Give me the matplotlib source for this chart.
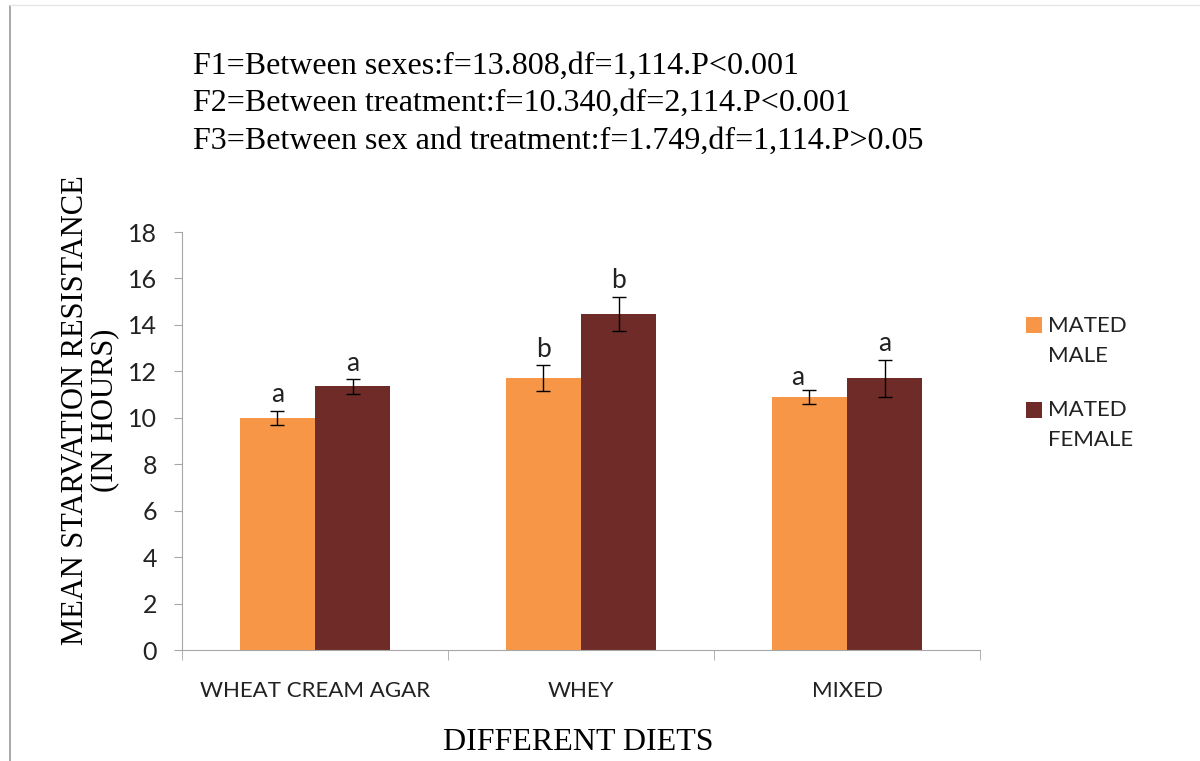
import numpy as np
import matplotlib.pyplot as plt
import matplotlib.patches as mpatches
from matplotlib.container import BarContainer
from matplotlib.legend_handler import HandlerPatch, update_from_first_child
from matplotlib.lines import Line2D

# Starvation resistance by diet and sex
diets = ['WHEAT CREAM AGAR', 'WHEY', 'MIXED']
male_mean = [10.0, 11.7, 10.9]
male_err = [0.3, 0.56, 0.29]
female_mean = [11.35, 14.47, 11.7]
female_err = [0.31, 0.74, 0.8]
male_letters = ['a', 'b', 'a']
female_letters = ['a', 'b', 'a']

stats_lines = [
    'F1=Between sexes:f=13.808,df=1,114.P<0.001',
    'F2=Between treatment:f=10.340,df=2,114.P<0.001',
    'F3=Between sex and treatment:f=1.749,df=1,114.P>0.05',
]

orange = '#F79646'
maroon = '#6E2B27'
axis_grey = '#A6A6A6'
sans = 'Lato'
serif = 'Liberation Serif'


def top_aligned_square(legend, orig_handle, xdescent, ydescent, width, height, fontsize):
    # legend key sits next to the first line of a two-line label
    return mpatches.Rectangle((-xdescent, -ydescent + 0.72 * fontsize), width, height)


fig = plt.figure(figsize=(12, 7.61), dpi=100)
ax = fig.add_axes([182 / 1200, 1 - 650 / 761, 798 / 1200, 418 / 761])

x = np.arange(len(diets))
w = 0.283
ax.bar(x - w / 2, male_mean, w, color=orange, label='MATED\nMALE')
ax.bar(x + w / 2, female_mean, w, color=maroon, label='MATED\nFEMALE')
ax.errorbar(x - w / 2, male_mean, yerr=male_err, fmt='none', ecolor='black',
            elinewidth=1.0, capsize=5, capthick=1.0)
ax.errorbar(x + w / 2, female_mean, yerr=female_err, fmt='none', ecolor='black',
            elinewidth=1.0, capsize=5, capthick=1.0)

# significance letters above the error bars
for i in range(len(diets)):
    dx = -0.045 if i == 2 else 0.0
    ax.text(x[i] - w / 2 + dx, male_mean[i] + male_err[i] + (0.0 if i == 2 else 0.15),
            male_letters[i], ha='center', va='bottom', fontsize=19, family=sans,
            color='#222222')
    ax.text(x[i] + w / 2, female_mean[i] + female_err[i] + 0.15, female_letters[i],
            ha='center', va='bottom', fontsize=19, family=sans, color='#222222')

ax.set_xlim(-0.5, len(diets) - 0.5)
ax.set_ylim(0, 18)
ax.set_yticks(range(0, 19, 2))
ax.set_xticks(x)
ax.set_xticklabels(diets, family=sans, fontsize=16)
ax.set_xticks(np.arange(-0.5, len(diets), 1.0), minor=True)
ax.tick_params(axis='x', which='major', length=0, pad=22)
ax.tick_params(axis='x', which='minor', length=7, color=axis_grey, direction='out')
ax.tick_params(axis='y', length=6, color=axis_grey, direction='out', pad=12,
               labelsize=18)
for lab in ax.get_yticklabels():
    lab.set_family(sans)
    lab.set_color('#222222')
for lab in ax.get_xticklabels():
    lab.set_color('#222222')

for side in ['top', 'right']:
    ax.spines[side].set_visible(False)
for side in ['left', 'bottom']:
    ax.spines[side].set_color(axis_grey)

ax.set_ylabel('MEAN STARVATION RESISTANCE\n(IN HOURS)', family=serif,
              fontsize=22, linespacing=1.0)
ax.yaxis.set_label_coords(-63 / 798, (650 - 410) / 418)
ax.set_xlabel('DIFFERENT DIETS', family=serif, fontsize=23)
ax.xaxis.set_label_coords((578 - 182) / 798, -78 / 418)

handles, labels = ax.get_legend_handles_labels()
square_handler = HandlerPatch(patch_func=top_aligned_square,
                              update_func=update_from_first_child)
leg = ax.legend(handles, labels, loc='upper left', bbox_to_anchor=(1.046, 0.82),
                frameon=False, borderaxespad=0, prop={'family': sans, 'size': 16},
                handlelength=0.75, handleheight=0.75, handletextpad=0.25,
                labelspacing=1.55, handler_map={BarContainer: square_handler})
for t in leg.get_texts():
    t.set_color('#222222')
    t.set_linespacing(1.62)

for k, line in enumerate(stats_lines):
    fig.text(193 / 1200, 1 - (66 + 37.5 * k) / 761, line, family=serif,
             fontsize=23, va='center', ha='left')

# page frame lines
fig.add_artist(Line2D([10 / 1200, 10 / 1200], [0, 1 - 6 / 761],
                      transform=fig.transFigure, color='#999999', lw=1.2))
fig.add_artist(Line2D([10 / 1200, 1], [1 - 5 / 761, 1 - 5 / 761],
                      transform=fig.transFigure, color='#E6E6E6', lw=1.0))

fig.savefig('out.png', dpi=100)
